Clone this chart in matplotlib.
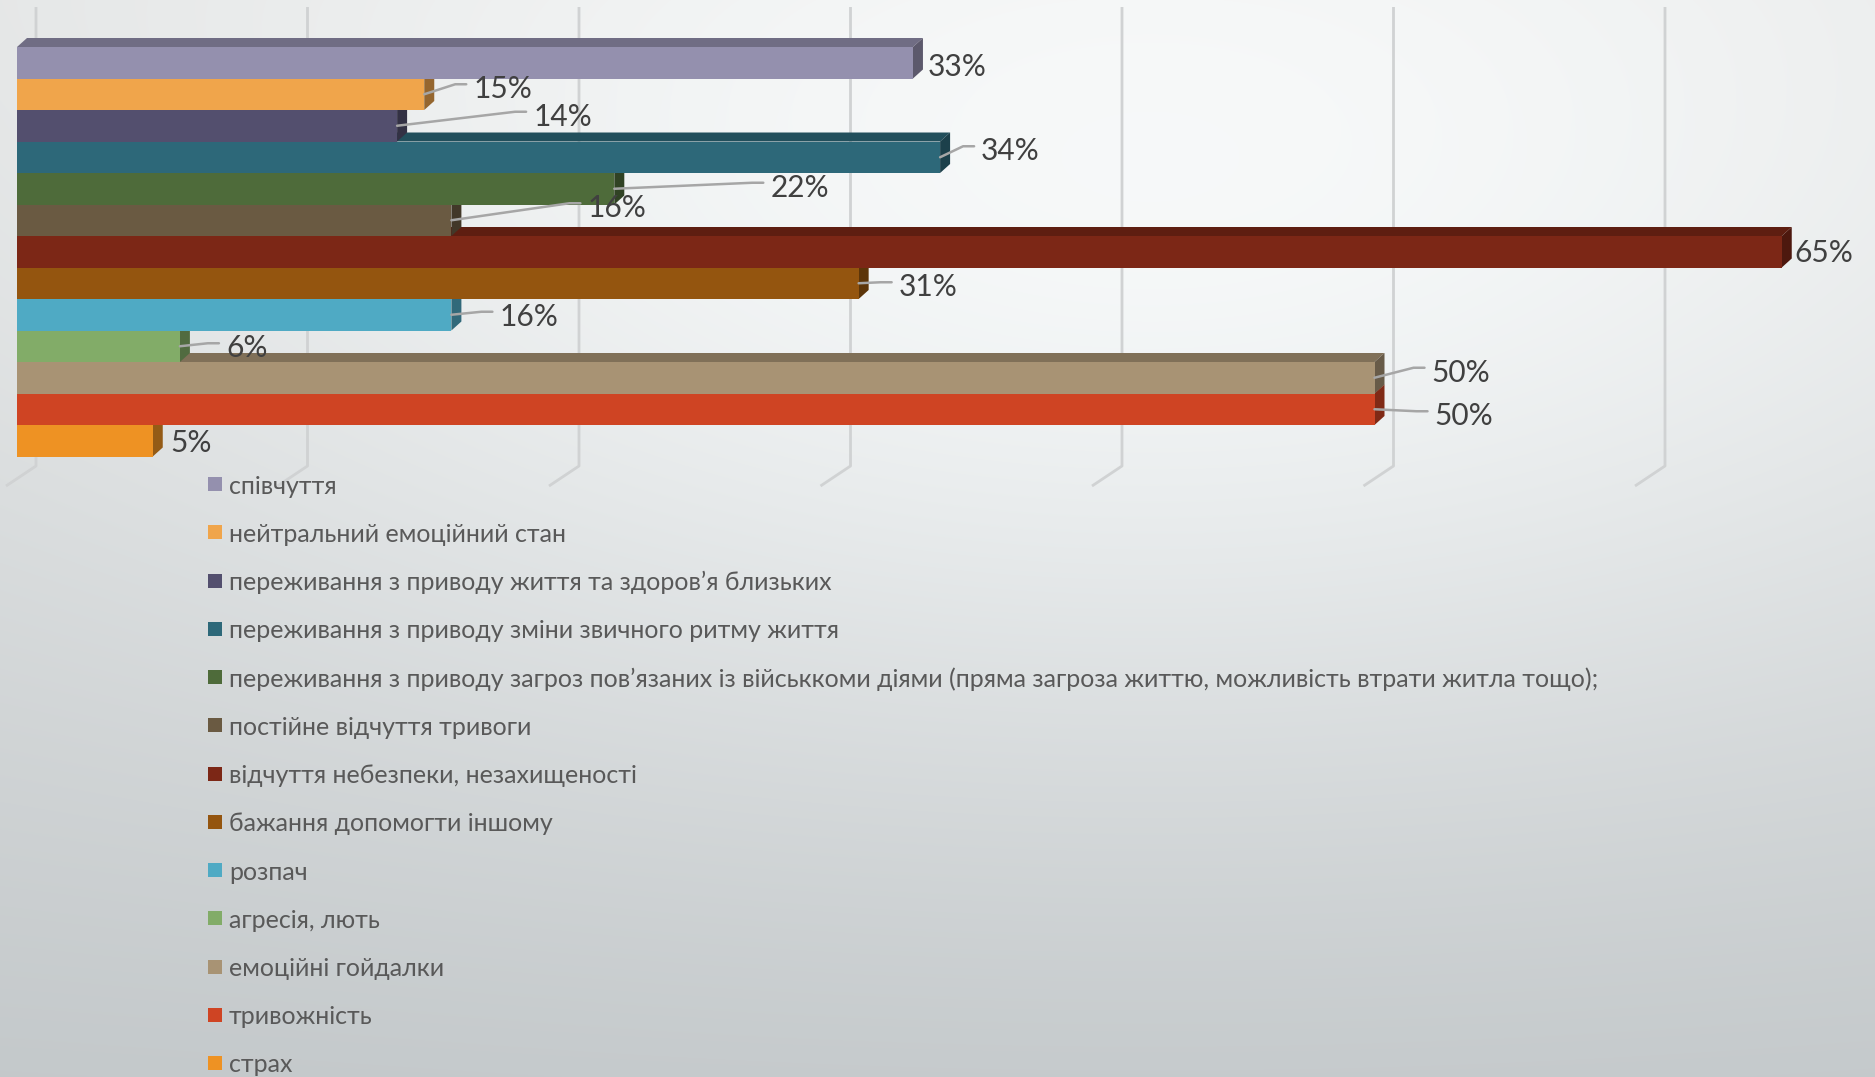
import matplotlib

matplotlib.use("Agg")
import matplotlib.pyplot as plt
import numpy as np
from matplotlib.colors import to_rgb
from matplotlib.patches import Polygon, Rectangle

# --- data -----------------------------------------------------------------
categories = [
    "співчуття",
    "нейтральний емоційний стан",
    "переживання з приводу життя та здоров’я близьких",
    "переживання з приводу зміни звичного ритму життя",
    "переживання з приводу загроз пов’язаних із військкоми діями "
    "(пряма загроза життю, можливість втрати житла тощо);",
    "постійне відчуття тривоги",
    "відчуття небезпеки, незахищеності",
    "бажання допомогти іншому",
    "розпач",
    "агресія, лють",
    "емоційні гойдалки",
    "тривожність",
    "страх",
]
values = [33, 15, 14, 34, 22, 16, 65, 31, 16, 6, 50, 50, 5]
colors = [
    "#9490ae", "#f0a54b", "#534f6e", "#2d6879", "#4e6b3a", "#6a5a42", "#7c2716",
    "#94550f", "#4faac4", "#82ac68", "#a89374", "#cf4423", "#ee9223",
]
grid_ticks = [0, 10, 20, 30, 40, 50, 60]

# label placement: (dx, dy) in pixels from bar end, leader line or not
label_offsets = [
    (15, 4), (49, -5), (136, -9), (41, -6), (156, -1), (136, -12), (13, 1),
    (40, 4), (48, 2), (46, 2), (57, -5), (60, 7), (18, 2),
]
label_leader = [False, True, True, True, True, True, False,
                True, True, True, True, True, False]

# --- layout (pixels) --------------------------------------------------------
W, H = 1875, 1077
X0 = 17.0          # front-face zero
PX = 27.15         # pixels per percent
Y0 = 47.0          # top of first bar front face
BH = 31.5          # bar height in pixels
DEPTH_X, DEPTH_Y = 10.0, 9.0
WALL_X = 19.0
GRID_TOP, GRID_BOTTOM = 7.0, 466.0
FLOOR_X, FLOOR_Y = -30.0, 20.0

fig = plt.figure(figsize=(W / 100, H / 100), dpi=100)

# background gradient
bg = fig.add_axes([0, 0, 1, 1])
yy, xx = np.mgrid[0:H, 0:W]
t = (yy / H) ** 1.1
top = np.array([0.875, 0.882, 0.882])
bottom = np.array([0.765, 0.784, 0.792])
base = top[None, None, :] * (1 - t[..., None]) + bottom[None, None, :] * t[..., None]
glow = np.exp(-((xx - 1150) ** 2) / (2 * 750 ** 2) - ((yy - 260) ** 2) / (2 * 380 ** 2))
img = np.clip(base + 0.11 * glow[..., None], 0, 1)
bg.imshow(img, extent=[0, W, H, 0], aspect="auto", interpolation="bilinear")
bg.set_axis_off()

ax = fig.add_axes([0, 0, 1, 1])
ax.set_xlim(-X0 / PX, (W - X0) / PX)
ax.set_ylim((H - Y0) / BH, -Y0 / BH)
ax.set_axis_off()
ax.patch.set_alpha(0)

dx, dy = DEPTH_X / PX, DEPTH_Y / BH

# back-wall gridlines with floor continuation
for g in grid_ticks:
    gx = g + WALL_X / PX
    y_top = (GRID_TOP - Y0) / BH
    y_bot = (GRID_BOTTOM - Y0) / BH
    ax.plot([gx, gx, gx + FLOOR_X / PX], [y_top, y_bot, y_bot + FLOOR_Y / BH],
            color="#d0d2d3", lw=2.0, solid_capstyle="butt", zorder=1)


def shade(color, k):
    r, g, b = to_rgb(color)
    return (r * k, g * k, b * k)


n = len(values)
for i in reversed(range(n)):
    v = values[i]
    c = colors[i]
    top_face = Polygon([(0, i), (v, i), (v + dx, i - dy), (dx, i - dy)],
                       closed=True, facecolor=shade(c, 0.76), edgecolor="none", zorder=2)
    side_face = Polygon([(v, i), (v + dx, i - dy), (v + dx, i + 1 - dy), (v, i + 1)],
                        closed=True, facecolor=shade(c, 0.62), edgecolor="none", zorder=2)
    ax.add_patch(top_face)
    ax.add_patch(side_face)
    ax.barh(i, v, height=1.0, align="edge", color=c, edgecolor="none", zorder=2)

# data labels
for i, v in enumerate(values):
    ox, oy = label_offsets[i]
    yc = i + 0.5
    tx, ty = v + ox / PX, yc + oy / BH
    if label_leader[i]:
        ax.plot([v, tx - 18 / PX, tx - 7 / PX],
                [yc, ty - 5 / BH, ty - 5 / BH],
                color="#a6a6a6", lw=1.8, zorder=3, solid_capstyle="round")
    ax.text(tx, ty, f"{v}%", ha="left", va="center", fontsize=21.5,
            family="Lato", color="#404040", zorder=4)

# legend
LEG_X, LEG_Y, LEG_STEP, SQ = 208, 484, 48.25, 14
for i, name in enumerate(categories):
    yc = LEG_Y + i * LEG_STEP
    fig.add_artist(Rectangle((LEG_X / W, 1 - (yc + SQ / 2) / H), SQ / W, SQ / H,
                             transform=fig.transFigure, facecolor=colors[i],
                             edgecolor="none"))
    fig.text((LEG_X + 21) / W, 1 - yc / H, name, ha="left", va="center_baseline",
             fontsize=18, family="Lato", color="#595959")

fig.savefig("out.png", dpi=100)
